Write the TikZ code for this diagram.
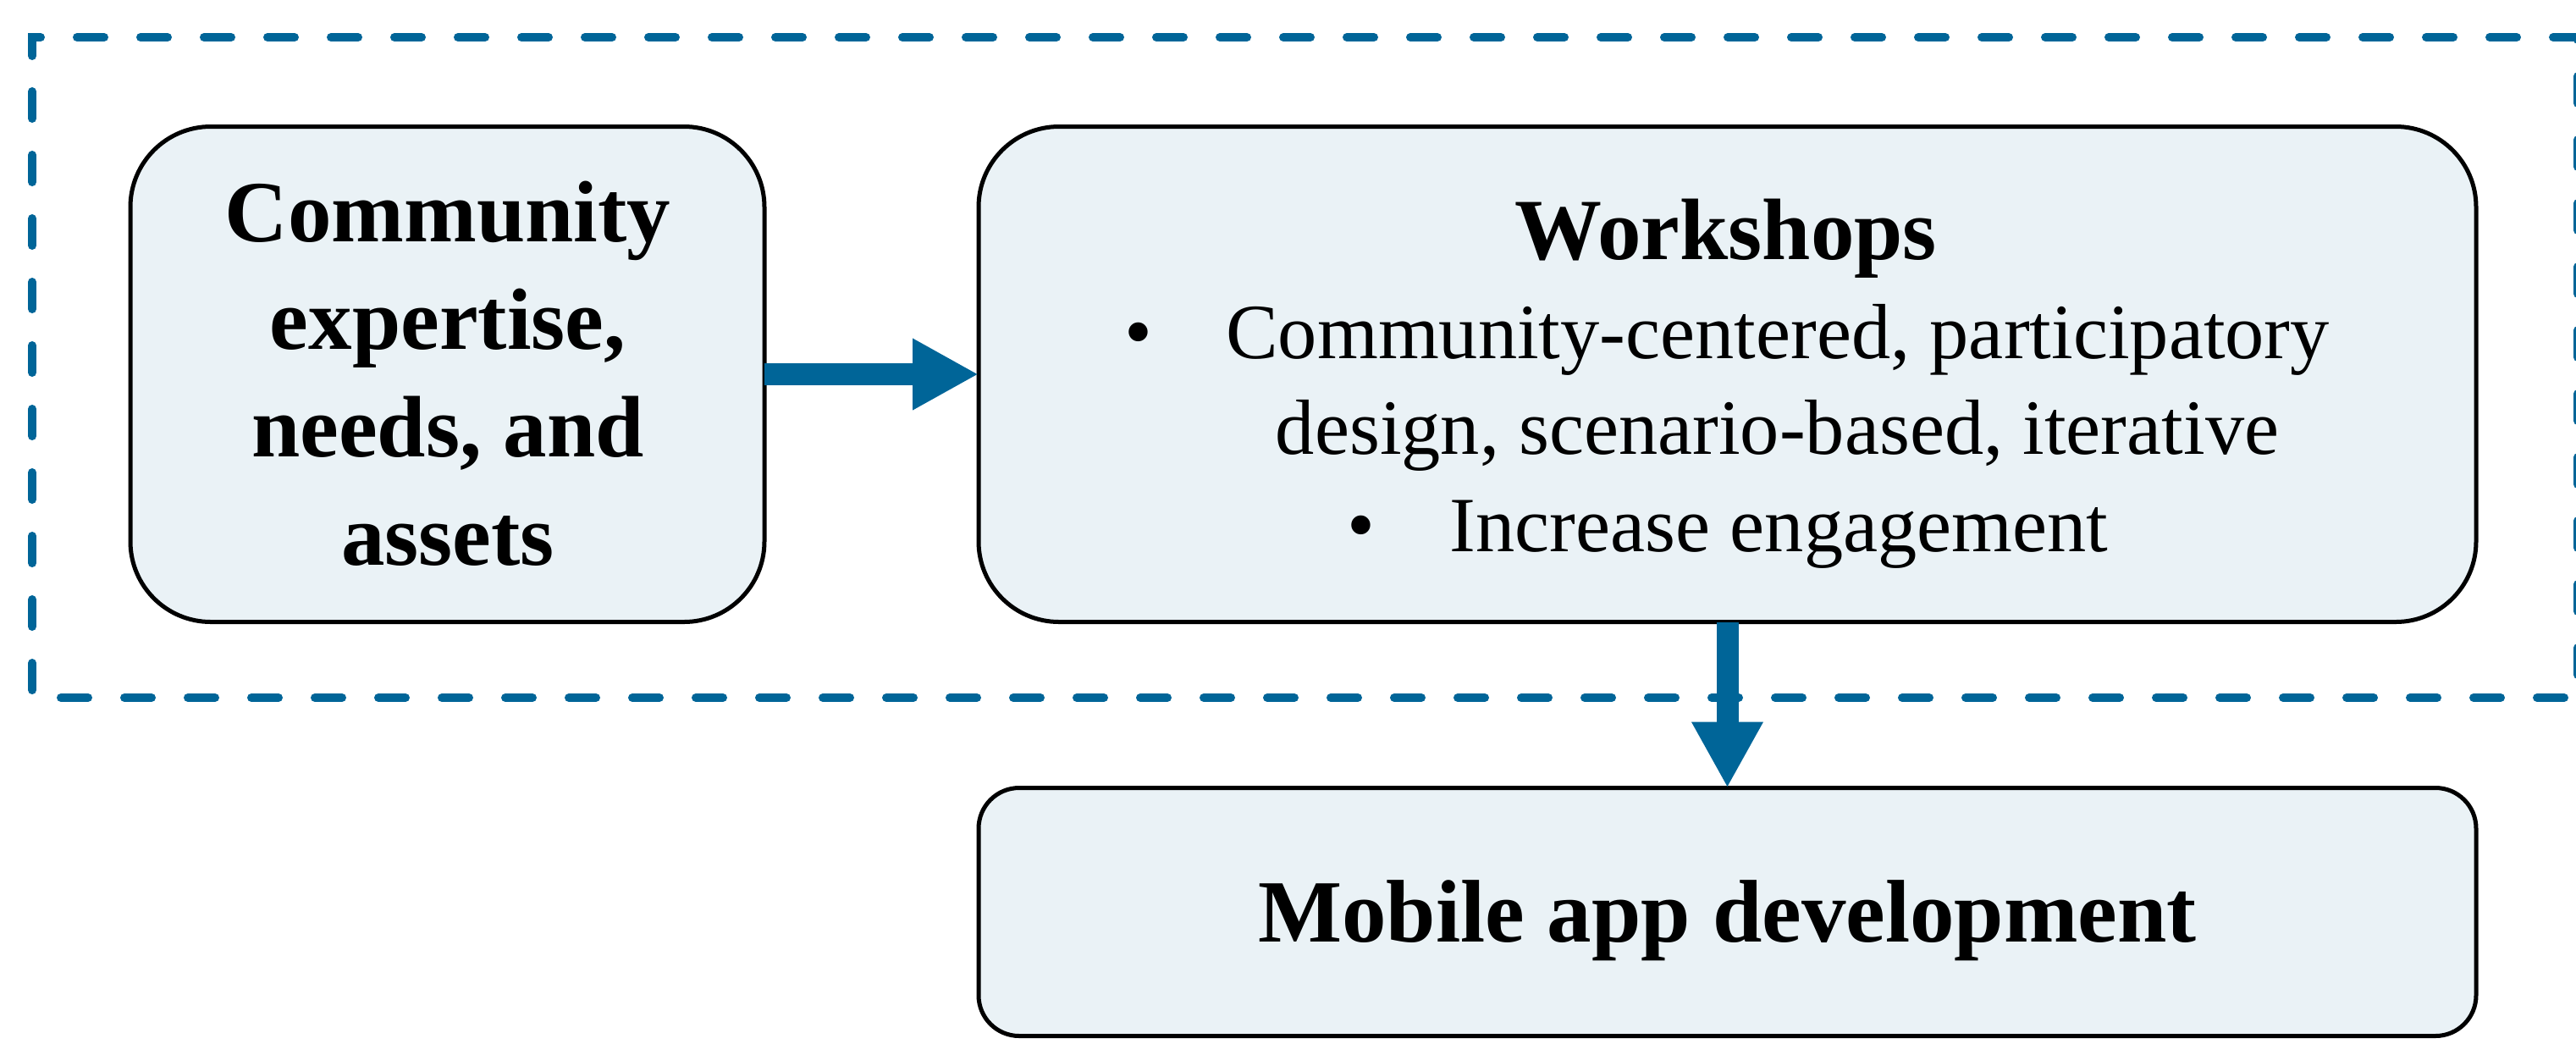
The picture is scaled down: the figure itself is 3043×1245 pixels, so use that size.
\documentclass[tikz,border=0pt]{standalone}
\usepackage{fontspec}
\setmainfont{Liberation Serif}
\usetikzlibrary{arrows.meta}
\definecolor{boxfill}{RGB}{234,242,246}
\definecolor{flowblue}{RGB}{0,101,152}
\begin{document}
\begin{tikzpicture}[x=0.25pt,y=-0.25pt,
  box/.style={draw=black, line width=1.25pt, fill=boxfill, inner sep=0pt, outer sep=0pt},
  bigbox/.style={box, rounded corners=23.75pt, minimum height=146.25pt},
  smallbox/.style={box, rounded corners=12pt},
  boldtxt/.style={font=\fontsize{25.75pt}{31.75pt}\selectfont\bfseries, inner sep=0pt, anchor=base},
  regtxt/.style={font=\fontsize{23.1pt}{28.6pt}\selectfont, inner sep=0pt, anchor=base},
  bullettxt/.style={font=\fontsize{23.5pt}{28.6pt}\selectfont, inner sep=0pt, anchor=base},
  mobtxt/.style={font=\fontsize{26.25pt}{32pt}\selectfont\bfseries, inner sep=0pt, anchor=base},
  flow/.style={draw=flowblue, line width=6.5pt, -{Triangle[length=19.5pt,width=19.75pt]}},
  frame/.style={draw=flowblue, line width=2.5pt, line cap=round, dash pattern=on 8pt off 10.75pt}
]
\useasboundingbox (0,0) rectangle (3043,1245);
% dashed frame
\draw[frame] (38,66) -- (38,44) -- (3045,44) -- (3045,824) -- (38,824) -- cycle;
% boxes
\node[bigbox, minimum width=187.25pt] (b1) at (528.5,442) {};
\node[bigbox, minimum width=442.25pt] (b2) at (2040.5,442) {};
\node[smallbox, minimum width=442.25pt, minimum height=73.25pt] (b3) at (2040.5,1077) {};
% texts of box 1
\node[boldtxt] (t1a) at (529,285) {Community};
\node[boldtxt] (t1b) at (529,412) {expertise,};
\node[boldtxt] (t1c) at (529,539) {needs, and};
\node[boldtxt] (t1d) at (529,667) {assets};
% texts of box 2
\node[boldtxt] (t2a) at (2039,306) {Workshops};
\node[bullettxt] (bu1) at (1345,423) {•};
\node[regtxt] (t2b) at (2100,423) {Community-centered, participatory};
\node[regtxt] (t2c) at (2099.5,536) {design, scenario-based, iterative};
\node[bullettxt] (bu2) at (1608,651) {•};
\node[regtxt] (t2d) at (2101.5,651) {Increase engagement};
% text of box 3
\node[mobtxt] (t3) at (2040.5,1112) {Mobile app development};
% connectors
\draw[flow] (b1.east) -- (b2.west);
\draw[flow] (b2.south) -- (b3.north);
\end{tikzpicture}
\end{document}
